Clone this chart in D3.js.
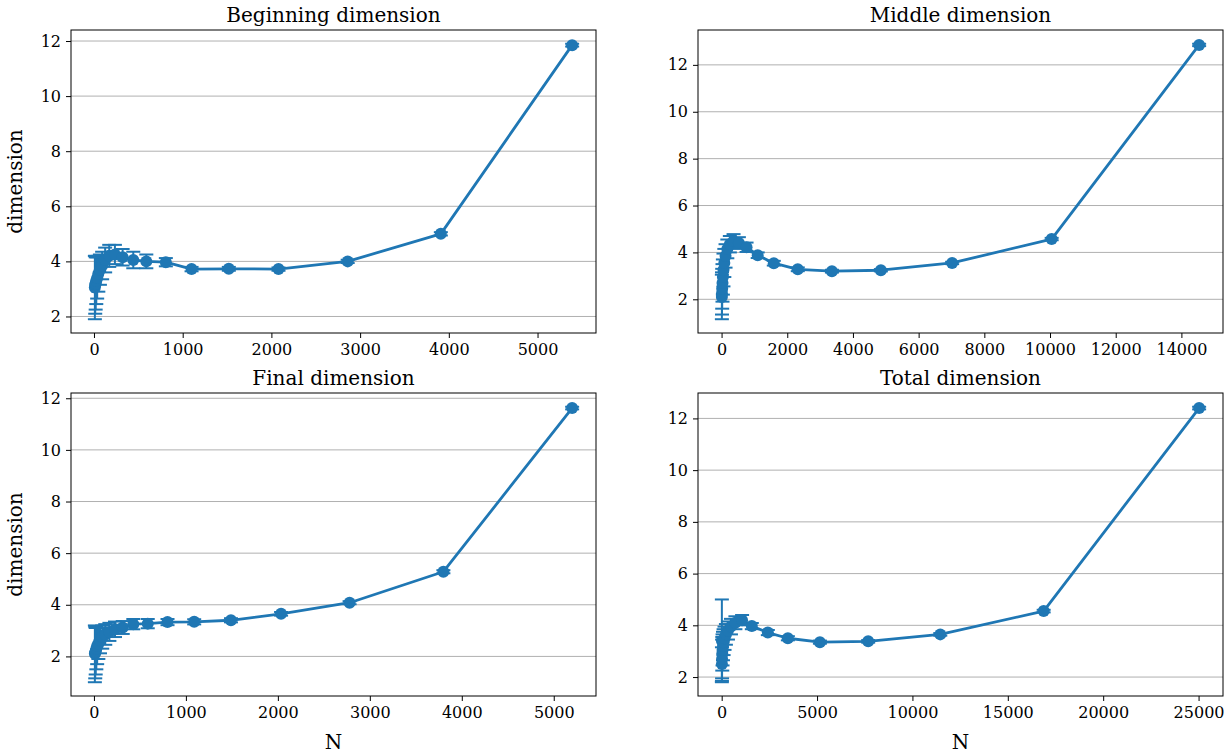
<!DOCTYPE html>
<html>
<head>
<meta charset="utf-8">
<script src="https://cdn.jsdelivr.net/npm/d3@7"></script>
<style>
  body { margin: 0; background: #fff; }
  text { font-family: "DejaVu Serif", serif; fill: #000; }
</style>
</head>
<body>
<svg id="fig" width="1231" height="755"></svg>
<script>
// Beginning phase: N, mean dimension, error
const beginN   = [10, 14, 19, 26, 36, 49, 67, 92, 126, 172, 236, 323, 443, 590, 810, 1100, 1520, 2080, 2860, 3910, 5390];
const beginDim = [3.05, 3.15, 3.2, 3.3, 3.4, 3.55, 3.7, 3.85, 4.05, 4.2, 4.25, 4.15, 4.05, 4.0, 3.97, 3.72, 3.73, 3.72, 4.0, 5.0, 11.85];
const beginErr = [1.15, 1.05, 0.95, 0.85, 0.75, 0.65, 0.55, 0.5, 0.45, 0.4, 0.35, 0.3, 0.3, 0.25, 0.15, 0.08, 0.07, 0.06, 0.06, 0.06, 0.05];

// Middle phase
const middleN   = [9, 13, 19, 28, 40, 58, 84, 121, 175, 252, 365, 527, 761, 1100, 1590, 2320, 3360, 4850, 7020, 10050, 14540];
const middleDim = [2.1, 2.25, 2.45, 2.7, 2.95, 3.25, 3.55, 3.85, 4.15, 4.35, 4.48, 4.4, 4.22, 3.88, 3.54, 3.28, 3.2, 3.24, 3.55, 4.57, 12.85];
const middleErr = [0.95, 0.9, 0.85, 0.8, 0.75, 0.7, 0.6, 0.5, 0.4, 0.35, 0.3, 0.25, 0.2, 0.12, 0.1, 0.08, 0.06, 0.05, 0.05, 0.05, 0.05];

// Final phase
const finalN   = [10, 14, 19, 26, 35, 48, 66, 90, 123, 168, 229, 313, 428, 585, 800, 1090, 1490, 2035, 2780, 3800, 5200];
const finalDim = [2.1, 2.15, 2.2, 2.3, 2.4, 2.5, 2.62, 2.75, 2.85, 2.95, 3.05, 3.12, 3.25, 3.27, 3.33, 3.34, 3.4, 3.65, 4.08, 5.28, 11.62];
const finalErr = [1.1, 1.0, 0.9, 0.8, 0.7, 0.6, 0.5, 0.45, 0.4, 0.35, 0.3, 0.25, 0.2, 0.18, 0.12, 0.1, 0.08, 0.07, 0.06, 0.06, 0.05];

// Whole run
const totalN   = [10, 14, 21, 31, 46, 68, 101, 150, 222, 329, 487, 720, 1070, 1580, 2420, 3470, 5150, 7680, 11460, 16880, 25030];
const totalDim = [3.4, 2.5, 2.7, 2.9, 3.05, 3.2, 3.35, 3.5, 3.65, 3.8, 3.95, 4.1, 4.2, 3.97, 3.72, 3.5, 3.35, 3.38, 3.65, 4.55, 12.4];
const totalErr = [1.6, 0.65, 0.75, 0.65, 0.6, 0.55, 0.5, 0.45, 0.4, 0.35, 0.3, 0.25, 0.2, 0.12, 0.1, 0.08, 0.06, 0.05, 0.05, 0.05, 0.05];

// Tick values
const yTicks       = [2, 4, 6, 8, 10, 12];
const beginXTicks  = [0, 1000, 2000, 3000, 4000, 5000];
const middleXTicks = [0, 2000, 4000, 6000, 8000, 10000, 12000, 14000];
const finalXTicks  = [0, 1000, 2000, 3000, 4000, 5000];
const totalXTicks  = [0, 5000, 10000, 15000, 20000, 25000];

const titles = ["Beginning dimension", "Middle dimension", "Final dimension", "Total dimension"];

const COLOR = "#1f77b4";
const GRID = "#b0b0b0";

const panels = [
  { title: titles[0], n: beginN,  y: beginDim,  e: beginErr,  xt: beginXTicks,  x0: 71,  y0: 30,  ylab: true,  xlab: false },
  { title: titles[1], n: middleN, y: middleDim, e: middleErr, xt: middleXTicks, x0: 698, y0: 30,  ylab: false, xlab: false },
  { title: titles[2], n: finalN,  y: finalDim,  e: finalErr,  xt: finalXTicks,  x0: 71,  y0: 393, ylab: true,  xlab: true },
  { title: titles[3], n: totalN,  y: totalDim,  e: totalErr,  xt: totalXTicks,  x0: 698, y0: 393, ylab: false, xlab: true }
];
const W = 525, H = 303;

const svg = d3.select("#fig");

// pad a data extent by 5% on each side
function padded(lo, hi) {
  const r = hi - lo;
  return [lo - 0.05 * r, hi + 0.05 * r];
}

panels.forEach(p => {
  const g = svg.append("g").attr("transform", `translate(${p.x0},${p.y0})`);
  const rows = p.n.map((n, i) => ({ n, y: p.y[i], e: p.e[i] }));

  const x = d3.scaleLinear()
    .domain(padded(d3.min(p.n), d3.max(p.n)))
    .range([0, W]);
  const y = d3.scaleLinear()
    .domain(padded(d3.min(rows, d => d.y - d.e), d3.max(rows, d => d.y + d.e)))
    .range([H, 0]);

  // horizontal grid
  g.append("g").selectAll("line").data(yTicks).join("line")
    .attr("x1", 0).attr("x2", W)
    .attr("y1", d => y(d)).attr("y2", d => y(d))
    .attr("stroke", GRID).attr("stroke-width", 1);

  const plot = g.append("g");
  // error bars
  plot.selectAll("line.err").data(rows).join("line").attr("class", "err")
    .attr("x1", d => x(d.n)).attr("x2", d => x(d.n))
    .attr("y1", d => y(d.y - d.e)).attr("y2", d => y(d.y + d.e))
    .attr("stroke", COLOR).attr("stroke-width", 2);
  const caps = rows.flatMap(d => [d.y - d.e, d.y + d.e].map(v => ({ n: d.n, v })));
  plot.selectAll("line.cap").data(caps).join("line").attr("class", "cap")
    .attr("x1", d => x(d.n) - 7).attr("x2", d => x(d.n) + 7)
    .attr("y1", d => y(d.v)).attr("y2", d => y(d.v))
    .attr("stroke", COLOR).attr("stroke-width", 2);

  // connecting line
  plot.append("path").datum(rows)
    .attr("fill", "none").attr("stroke", COLOR).attr("stroke-width", 2.8)
    .attr("stroke-linejoin", "round")
    .attr("d", d3.line().x(d => x(d.n)).y(d => y(d.y)));

  // markers
  plot.selectAll("circle").data(rows).join("circle")
    .attr("cx", d => x(d.n)).attr("cy", d => y(d.y)).attr("r", 6)
    .attr("fill", COLOR);

  // axes
  const xa = g.append("g").attr("transform", `translate(0,${H})`)
    .call(d3.axisBottom(x).tickValues(p.xt).tickFormat(d3.format("d")).tickSize(5).tickSizeOuter(0).tickPadding(6));
  const ya = g.append("g")
    .call(d3.axisLeft(y).tickValues(yTicks).tickFormat(d3.format("d")).tickSize(5).tickSizeOuter(0).tickPadding(5));
  [xa, ya].forEach(a => {
    a.select(".domain").remove();
    a.selectAll("line").attr("stroke", "#000").attr("stroke-width", 1);
    a.selectAll("text").style("font-family", "'DejaVu Serif', serif").style("font-size", "16px").attr("fill", "#000");
  });

  // frame
  g.append("rect").attr("x", 0).attr("y", 0).attr("width", W).attr("height", H)
    .attr("fill", "none").attr("stroke", "#000").attr("stroke-width", 1);

  // title
  g.append("text").attr("x", W / 2).attr("y", -8).attr("text-anchor", "middle")
    .style("font-size", "20px").text(p.title);

  if (p.ylab) {
    g.append("text").attr("transform", `translate(${-49},${H / 2}) rotate(-90)`)
      .attr("text-anchor", "middle").style("font-size", "20px").text("dimension");
  }
  if (p.xlab) {
    g.append("text").attr("x", W / 2).attr("y", H + 53).attr("text-anchor", "middle")
      .style("font-size", "20px").text("N");
  }
});
</script>
</body>
</html>
